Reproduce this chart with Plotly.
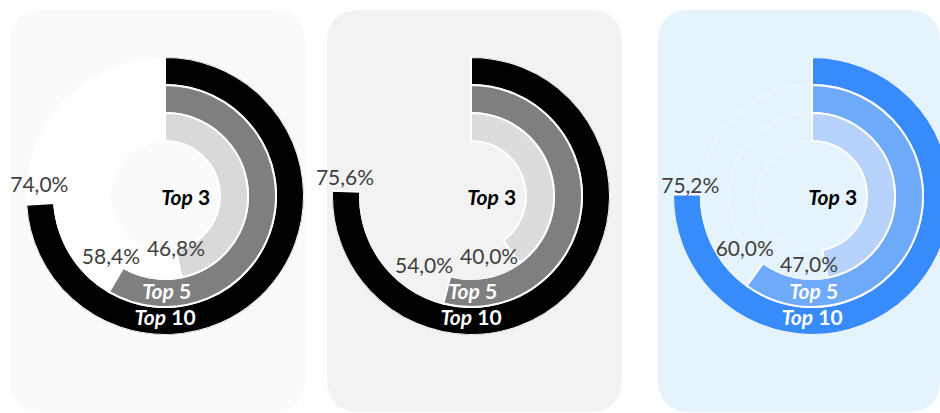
import plotly.graph_objects as go

# ---------------- data ----------------
ring_names = ["Top 10", "Top 5", "Top 3"]
share_panel1 = [74.0, 58.4, 46.8]
share_panel2 = [75.6, 54.0, 40.0]
share_panel3 = [75.2, 60.0, 47.0]
panel_values = [share_panel1, share_panel2, share_panel3]

# ---------------- layout / style ----------------
W, H = 952, 413
CX = [165, 471, 812]
CY = 196
R_OUT = 139
RING_BASE = [111, 83, 55]
RING_THICK = 28
PANEL_X = [(10, 305), (327, 622), (658, 940)]
PANEL_Y = (10, 412)
CORNER = 33
PANEL_BG = ["#fafafa", "#f2f2f2", "#e5f3fc"]
RING_COLORS = [
    ["#000000", "#7f7f7f", "#d9d9d9"],
    ["#000000", "#7f7f7f", "#dcdcdc"],
    ["#388bfa", "#6eaaf9", "#b7d3fc"],
]
REST_FILL = ["#ffffff", "#f2f2f2", "#e5f3fc"]
REST_LINE = ["#ffffff", "#f2f2f2", "#eaf5fd"]
LABEL_NUDGE = [[7.7, 10.4, 0.2], [5.0, 18.7, 19.8], [3.0, 14.6, 13.2]]
LABEL_R = [[126, 83, 56], [127, 86, 65], [122, 87, 71]]
NAME_R = [124, 98, 21]
NAME_THETA = [180, 179, 100]
NAME_COLORS = ["white", "white", "black"]
FONT = "Lato"


def fmt(v):
    return f"{v:.1f}".replace(".", ",") + "%"


def rrect(x0, x1, y0, y1, r):
    px = lambda x: x / W
    py = lambda y: 1 - y / H
    return (
        f"M {px(x0 + r)},{py(y0)} L {px(x1 - r)},{py(y0)} "
        f"Q {px(x1)},{py(y0)} {px(x1)},{py(y0 + r)} "
        f"L {px(x1)},{py(y1 - r)} Q {px(x1)},{py(y1)} {px(x1 - r)},{py(y1)} "
        f"L {px(x0 + r)},{py(y1)} Q {px(x0)},{py(y1)} {px(x0)},{py(y1 - r)} "
        f"L {px(x0)},{py(y0 + r)} Q {px(x0)},{py(y0)} {px(x0 + r)},{py(y0)} Z"
    )


fig = go.Figure()
shapes = []
layout_polars = {}

for p, vals in enumerate(panel_values):
    pid = "polar" if p == 0 else f"polar{p + 1}"
    x0, x1 = PANEL_X[p]
    shapes.append(dict(type="path", xref="paper", yref="paper",
                       path=rrect(x0, x1, PANEL_Y[0], PANEL_Y[1], CORNER),
                       fillcolor=PANEL_BG[p], line=dict(width=0), layer="below"))
    layout_polars[pid] = dict(
        domain=dict(x=[(CX[p] - R_OUT) / W, (CX[p] + R_OUT) / W],
                    y=[(H - CY - R_OUT) / H, (H - CY + R_OUT) / H]),
        bgcolor="rgba(0,0,0,0)",
        barmode="overlay",
        radialaxis=dict(range=[0, R_OUT], visible=False, showgrid=False),
        angularaxis=dict(rotation=90, direction="clockwise", visible=False,
                         showgrid=False),
    )
    for k, v in enumerate(vals):
        span = v * 3.6
        # remainder of ring
        fig.add_trace(go.Barpolar(
            r=[RING_THICK], base=[RING_BASE[k]], theta=[span + (360 - span) / 2],
            width=[360 - span], subplot=pid, showlegend=False, hoverinfo="skip",
            marker=dict(color=REST_FILL[p], line=dict(color=REST_LINE[p], width=2))))
        # value arc
        fig.add_trace(go.Barpolar(
            r=[RING_THICK], base=[RING_BASE[k]], theta=[span / 2],
            width=[span], subplot=pid, showlegend=False, name=ring_names[k],
            hoverinfo="skip",
            marker=dict(color=RING_COLORS[p][k], line=dict(color="white", width=2))))
    # value labels
    fig.add_trace(go.Scatterpolar(
        r=LABEL_R[p], theta=[v * 3.6 + d for v, d in zip(vals, LABEL_NUDGE[p])],
        text=[fmt(v) for v in vals], mode="text", subplot=pid, showlegend=False,
        cliponaxis=False, hoverinfo="skip",
        textfont=dict(family=FONT, size=21, color="#404040")))
    # ring names
    fig.add_trace(go.Scatterpolar(
        r=NAME_R, theta=NAME_THETA,
        text=[f"<b><i>{n.split(' ')[0]}</i> {n.split(' ')[1]}</b>" for n in ring_names],
        mode="text", subplot=pid, showlegend=False, cliponaxis=False,
        hoverinfo="skip",
        textfont=dict(family=FONT, size=21, color=NAME_COLORS)))

fig.update_layout(
    width=W, height=H,
    margin=dict(l=0, r=0, t=0, b=0),
    paper_bgcolor="white",
    plot_bgcolor="white",
    shapes=shapes,
    font=dict(family=FONT),
    hovermode=False,
    **layout_polars,
)

fig.write_html(
    "out.html",
    config={"displayModeBar": False, "staticPlot": True},
    post_script="document.body.style.margin='0px';document.body.style.overflow='hidden';",
)
